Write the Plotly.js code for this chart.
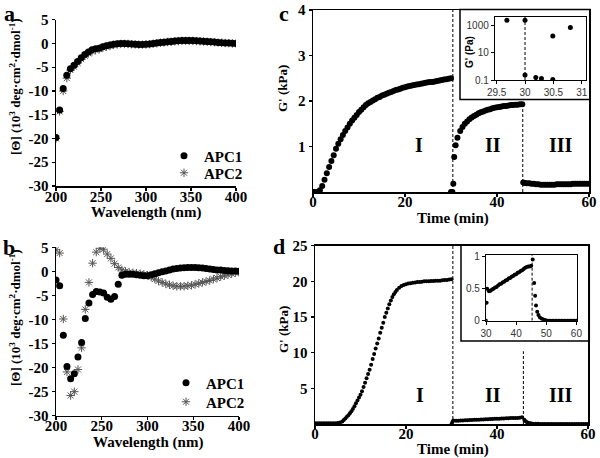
<!DOCTYPE html>
<html>
<head>
<meta charset="utf-8">
<script src="https://cdn.plot.ly/plotly-3.0.1.min.js"></script>
<style>
  html, body { margin: 0; padding: 0; background: #fff; }
  #chart { width: 600px; height: 458px; }
</style>
</head>
<body>
<div id="chart"></div>
<script>
// --- CD spectra (panels a, b) ---
const wavelength = [200, 204, 208, 212, 216, 220, 224, 228, 232, 236, 240, 244, 248, 252, 256, 260, 264, 268, 272, 276,
  280, 284, 288, 292, 296, 300, 304, 308, 312, 316, 320, 324, 328, 332, 336, 340, 344, 348, 352, 356,
  360, 364, 368, 372, 376, 380, 384, 388, 392, 396, 400];

const apc1A = [-19.8, -14.0, -9.5, -6.7, -5.3, -4.6, -3.8, -3.0, -2.3, -1.8, -1.3, -1.1, -1.0, -0.7, -0.5, -0.3, -0.15, -0.05, 0, 0,
  -0.05, -0.1, -0.15, -0.2, -0.2, -0.15, -0.1, 0, 0.1, 0.2, 0.25, 0.35, 0.4, 0.5, 0.55, 0.6, 0.6, 0.6, 0.6, 0.55,
  0.5, 0.45, 0.4, 0.35, 0.3, 0.2, 0.15, 0.1, 0.1, 0.05, 0.0];
const apc2A = [-20.0, -14.3, -10.0, -7.3, -5.6, -4.9, -4.1, -3.3, -2.6, -2.1, -1.7, -1.4, -1.2, -0.9, -0.7, -0.5, -0.3, -0.2, -0.1, -0.1,
  -0.1, -0.15, -0.2, -0.25, -0.25, -0.2, -0.15, -0.05, 0.05, 0.15, 0.2, 0.3, 0.35, 0.45, 0.5, 0.55, 0.55, 0.55, 0.55, 0.5,
  0.45, 0.4, 0.35, 0.3, 0.25, 0.2, 0.15, 0.1, 0.05, 0.0, 0.0];

const apc1B = [-1.8, -3.0, -13.3, -19.8, -22.3, -21.3, -17.8, -14.8, -9.8, -6.6, -4.8, -4.2, -4.3, -4.5, -5.4, -5.8, -5.2, -2.7, -0.8, -0.6,
  -0.6, -0.6, -0.7, -0.8, -0.9, -0.9, -0.7, -0.5, -0.3, -0.1, 0.1, 0.3, 0.5, 0.6, 0.7, 0.75, 0.8, 0.8, 0.8, 0.75,
  0.7, 0.6, 0.5, 0.4, 0.3, 0.3, 0.2, 0.15, 0.1, 0.05, 0.0];
const apc2B = [4.5, 3.8, -9.9, -20.9, -25.8, -25.0, -20.4, -15.9, -7.9, -2.3, 1.7, 4.0, 4.8, 4.6, 3.6, 2.7, 1.6, 0.8, 0.3, 0.0,
  -0.2, -0.3, -0.4, -0.5, -0.6, -0.8, -1.2, -1.6, -2.0, -2.3, -2.6, -2.8, -3.0, -3.1, -3.1, -3.1, -3.0, -2.9, -2.7, -2.5,
  -2.3, -2.1, -1.9, -1.6, -1.4, -1.1, -0.9, -0.7, -0.5, -0.3, -0.2];

const cdTickVals = [5, 0, -5, -10, -15, -20, -25, -30];
const cdTickText = ['5', '0', '-5', '-10', '-15', '-20', '-25', '-30'];

// --- Rheology panel c (G' in kPa) ---
const timeC1 = [0, 0.5, 1, 1.5, 2, 2.5, 3, 3.5, 4, 4.5, 5, 5.5, 6, 6.5, 7, 7.5, 8, 8.5, 9, 9.5,
  10, 10.5, 11, 11.5, 12, 12.5, 13, 13.5, 14, 14.5, 15, 15.5, 16, 16.5, 17, 17.5, 18, 18.5, 19, 19.5,
  20, 20.5, 21, 21.5, 22, 22.5, 23, 23.5, 24, 24.5, 25, 25.5, 26, 26.5, 27, 27.5, 28, 28.5, 29, 29.5, 30];
const gC1 = [0, 0, 0, 0.04, 0.13, 0.27, 0.41, 0.55, 0.68, 0.81, 0.95, 1.06, 1.16, 1.25, 1.34, 1.42, 1.50, 1.57, 1.63, 1.69,
  1.76, 1.81, 1.86, 1.91, 1.95, 1.98, 2.01, 2.04, 2.07, 2.09, 2.12, 2.14, 2.16, 2.18, 2.20, 2.22, 2.24, 2.25, 2.27, 2.29,
  2.30, 2.32, 2.33, 2.34, 2.35, 2.36, 2.37, 2.38, 2.39, 2.40, 2.41, 2.42, 2.42, 2.43, 2.44, 2.45, 2.46, 2.47, 2.48, 2.49, 2.50];
const timeC2 = [30.0, 30.3, 30.5, 30.7, 31.0, 31.4, 32.0, 32.5, 33.0, 33.5, 34.0, 34.5, 35.0, 35.5, 36.0, 36.5, 37.0, 37.5, 38.0, 38.5,
  39.0, 39.5, 40.0, 40.5, 41.0, 41.5, 42.0, 42.5, 43.0, 43.5, 44.0, 44.5, 45.0, 45.5];
const gC2 = [0, 0, 0.18, 0.77, 1.03, 1.19, 1.34, 1.43, 1.50, 1.55, 1.60, 1.64, 1.67, 1.70, 1.73, 1.75, 1.77, 1.79, 1.81, 1.82,
  1.84, 1.85, 1.86, 1.87, 1.88, 1.89, 1.89, 1.90, 1.91, 1.91, 1.92, 1.92, 1.93, 1.93];
const timeC3 = [45.7, 46.0, 46.5, 47.0, 47.5, 48.0, 48.5, 49.0, 49.5, 50.0, 50.5, 51.0, 51.5, 52.0, 52.5, 53.0, 53.5, 54.0, 54.5, 55.0,
  55.5, 56.0, 56.5, 57.0, 57.5, 58.0, 58.5, 59.0, 59.5, 60.0];
const gC3 = [0.21, 0.20, 0.19, 0.19, 0.18, 0.18, 0.17, 0.17, 0.16, 0.16, 0.16, 0.16, 0.16, 0.16, 0.16, 0.17, 0.17, 0.17, 0.17, 0.17,
  0.17, 0.17, 0.18, 0.18, 0.18, 0.18, 0.18, 0.18, 0.18, 0.18];

// inset c: G' in Pa around the strain step
const insetTimeC = [29.68, 30.0, 30.0, 30.19, 30.29, 30.49, 30.49, 30.8];
const insetGc = [2600, 2600, 0.23, 0.15, 0.13, 0.11, 180, 760];

// --- Rheology panel d (G' in kPa) ---
const timeD1 = [0, 0.5, 1, 1.5, 2, 2.5, 3, 3.5, 4, 4.5, 5, 5.5,
  6.00, 6.33, 6.67, 7.00, 7.33, 7.67, 8.00, 8.33, 8.67, 9.00, 9.33, 9.67, 10.00, 10.33, 10.67, 11.00, 11.33, 11.67,
  12.00, 12.33, 12.67, 13.00, 13.33, 13.67, 14.00, 14.33, 14.67, 15.00, 15.33, 15.67, 16.00, 16.33, 16.67, 17.00, 17.33, 17.67, 18.00,
  18.5, 19, 19.5, 20, 20.5, 21, 21.5, 22, 22.5, 23, 23.5, 24, 24.5, 25, 25.5, 26, 26.5, 27, 27.5, 28, 28.5, 29, 29.5, 30];
const gD1 = [0.1, 0.1, 0.1, 0.1, 0.1, 0.1, 0.1, 0.1, 0.1, 0.12, 0.15, 0.22,
  0.35, 0.55, 0.78, 1.0, 1.22, 1.5, 1.8, 2.1, 2.5, 2.9, 3.3, 3.7, 4.1, 4.6, 5.2, 5.8, 6.4, 7.0,
  7.6, 8.3, 9.1, 9.8, 10.6, 11.3, 12.0, 12.8, 13.5, 14.2, 15.0, 15.6, 16.2, 16.8, 17.3, 17.8, 18.2, 18.5, 18.8,
  19.1, 19.35, 19.5, 19.6, 19.7, 19.75, 19.8, 19.85, 19.9, 19.9, 19.95, 20.0, 20.0, 20.0, 20.05, 20.05, 20.1, 20.1, 20.1, 20.15, 20.2, 20.2, 20.25, 20.3];
const timeD2 = [30.0, 30.2, 30.4, 31.0, 31.5, 32.0, 32.5, 33.0, 33.5, 34.0, 34.5, 35.0, 35.5, 36.0, 36.5, 37.0, 37.5, 38.0, 38.5,
  39.0, 39.5, 40.0, 40.5, 41.0, 41.5, 42.0, 42.5, 43.0, 43.5, 44.0, 44.5, 45.0, 45.5];
const gD2 = [0.0, 0.28, 0.5, 0.46, 0.47, 0.49, 0.50, 0.52, 0.53, 0.55, 0.57, 0.58, 0.60, 0.61, 0.63, 0.64, 0.66, 0.67, 0.69,
  0.70, 0.72, 0.73, 0.75, 0.76, 0.78, 0.79, 0.81, 0.83, 0.84, 0.85, 0.85, 0.86, 0.96];
const timeD3 = [46.0, 46.3, 46.6, 47.0, 47.4, 47.9, 48.5, 49.0, 49.5, 50.0, 50.5, 51.0, 51.5, 52.0, 52.5, 53.0, 53.5, 54.0, 54.5, 55.0,
  55.5, 56.0, 56.5, 57.0, 57.5, 58.0, 58.5, 59.0, 59.5, 60.0];
const gD3 = [0.59, 0.39, 0.24, 0.14, 0.09, 0.05, 0.03, 0.02, 0.01, 0.005, 0, 0, 0, 0, 0, 0, 0, 0, 0, 0,
  0, 0, 0, 0, 0, 0, 0, 0, 0, 0];

const regionLabels = ['I', 'II', 'III'];
const regionTimes = [23, 39.2, 54];

// --- helpers ---
const W = 600, H = 458;
const px = x => x / W;
const py = y => 1 - y / H;
const serif = 'Liberation Serif, Times New Roman, serif';
const sans = 'Liberation Sans, Arial, sans-serif';

function mainAxis(extra) {
  return Object.assign({
    showgrid: false, zeroline: false, showline: true, linecolor: '#000', linewidth: 1.5,
    ticks: 'outside', ticklen: 3, tickcolor: '#000', tickwidth: 1.2,
    tickfont: { family: serif, size: 15, color: '#000', weight: 'bold' },
    fixedrange: true
  }, extra);
}
function insetAxis(extra) {
  return Object.assign({
    showgrid: false, zeroline: false, showline: true, linecolor: '#000', linewidth: 1.2, mirror: true,
    ticks: 'outside', ticklen: 3, tickcolor: '#000', tickwidth: 1,
    tickfont: { family: sans, size: 10, color: '#333' },
    fixedrange: true
  }, extra);
}
function dots(x, y, xa, ya, size) {
  return { x: x, y: y, xaxis: xa, yaxis: ya, type: 'scatter', mode: 'markers',
    marker: { color: '#000', size: size, symbol: 'circle' }, showlegend: false, hoverinfo: 'skip' };
}
function cdTrace(x, y, xa, ya, name, legend) {
  const star = name === 'APC2';
  return { x: x, y: y, xaxis: xa, yaxis: ya, type: 'scatter', mode: 'markers', name: name, legend: legend,
    marker: star ? { symbol: 'asterisk-open', size: 7, color: '#555', line: { color: '#555', width: 1 } }
                 : { symbol: 'circle', size: 7, color: '#000' } };
}
function vdash(xref, yref, x, y0, y1) {
  return { type: 'line', xref: xref, yref: yref, x0: x, x1: x, y0: y0, y1: y1,
    line: { color: '#000', width: 1, dash: '3px,2px' }, layer: 'above' };
}
function label(text, x, y, size, extra) {
  return Object.assign({ text: text, x: px(x), y: py(y), xref: 'paper', yref: 'paper', showarrow: false,
    xanchor: 'center', yanchor: 'middle', font: { family: serif, size: size, color: '#000', weight: 'bold' } }, extra || {});
}

// --- traces ---
const traces = [
  cdTrace(wavelength, apc2A, 'x', 'y', 'APC2', 'legend3'),
  cdTrace(wavelength, apc1A, 'x', 'y', 'APC1', 'legend'),
  cdTrace(wavelength, apc2B, 'x2', 'y2', 'APC2', 'legend4'),
  cdTrace(wavelength, apc1B, 'x2', 'y2', 'APC1', 'legend2'),
  dots(timeC1, gC1, 'x3', 'y3', 6),
  dots(timeC2, gC2, 'x3', 'y3', 6),
  dots(timeC3, gC3, 'x3', 'y3', 6),
  dots(timeD1, gD1, 'x4', 'y4', 4),
  dots(timeD2, gD2, 'x4', 'y4', 4),
  dots(timeD3, gD3, 'x4', 'y4', 4),
  dots(insetTimeC, insetGc, 'x5', 'y5', 5),
  dots(timeD2, gD2, 'x6', 'y6', 4),
  dots(timeD3, gD3, 'x6', 'y6', 4)
];

const annotations = [
  label('a', 9, 13, 22), label('b', 9, 247, 22), label('c', 284, 13, 22), label('d', 279, 246, 22),
  label('[Θ] (10<sup>3</sup> deg·cm<sup>2</sup>·dmol<sup>-1</sup>)', 15, 87, 13, { textangle: -90 }),
  label('[Θ] (10<sup>3</sup> deg·cm<sup>2</sup>·dmol<sup>-1</sup>)', 15, 318, 13, { textangle: -90 }),
  label('Wavelength (nm)', 146, 212, 15), label('Wavelength (nm)', 148, 442, 15),
  label("G' (kPa)", 283, 89, 13, { textangle: -90 }), label("G' (kPa)", 283, 330, 13, { textangle: -90 }),
  label('Time (min)', 453, 218, 15), label('Time (min)', 453, 449, 15),
  label("G' (Pa)", 469, 52, 10, { textangle: -90, font: { family: sans, size: 10, color: '#000', weight: 'bold' } })
];
regionLabels.forEach((t, i) => {
  annotations.push({ text: t, x: regionTimes[i], y: 1.03, xref: 'x3', yref: 'y3', showarrow: false,
    font: { family: serif, size: 20, color: '#000', weight: 'bold' } });
  annotations.push({ text: t, x: regionTimes[i], y: 4.1, xref: 'x4', yref: 'y4', showarrow: false,
    font: { family: serif, size: 20, color: '#000', weight: 'bold' } });
});

function legendAt(x, y) {
  return { x: px(x), y: py(y), xanchor: 'left', yanchor: 'middle', bgcolor: 'rgba(0,0,0,0)', borderwidth: 0,
    itemwidth: 30, font: { family: serif, size: 15, color: '#000', weight: 'bold' } };
}

const layout = {
  width: W, height: H,
  margin: { l: 0, r: 0, t: 0, b: 0 },
  paper_bgcolor: '#fff', plot_bgcolor: 'rgba(0,0,0,0)',
  showlegend: true,
  legend: legendAt(164, 156),
  legend3: legendAt(164, 173),
  legend2: legendAt(166, 383),
  legend4: legendAt(166, 402),
  xaxis: mainAxis({ domain: [px(56), px(236)], range: [200, 400], anchor: 'y', tickvals: [200, 250, 300, 350, 400], ticklabelstandoff: -7 }),
  yaxis: mainAxis({ domain: [py(186), py(19.7)], range: [-30, 5], anchor: 'x', tickvals: cdTickVals, ticktext: cdTickText }),
  xaxis2: mainAxis({ domain: [px(56), px(239)], range: [200, 400], anchor: 'y2', tickvals: [200, 250, 300, 350, 400], ticklabelstandoff: -7 }),
  yaxis2: mainAxis({ domain: [py(415.7), py(247.3)], range: [-30, 5], anchor: 'x2', tickvals: cdTickVals, ticktext: cdTickText }),
  xaxis3: mainAxis({ domain: [px(313), px(589)], range: [0, 60], anchor: 'y3', tickvals: [0, 20, 40, 60], mirror: true, ticklabelstandoff: -8 }),
  yaxis3: mainAxis({ domain: [py(192), py(10)], range: [0, 4], anchor: 'x3', tickvals: [1, 2, 3, 4], mirror: true }),
  xaxis4: mainAxis({ domain: [px(315), px(588)], range: [0, 60], anchor: 'y4', tickvals: [0, 20, 40, 60], mirror: true, ticklabelstandoff: -8 }),
  yaxis4: mainAxis({ domain: [py(424), py(245.7)], range: [0, 25], anchor: 'x4', tickvals: [5, 10, 15, 20, 25], mirror: true }),
  xaxis5: insetAxis({ domain: [px(495), px(586)], range: [29.47, 31.076], anchor: 'y5', tickvals: [29.5, 30, 30.5, 31] }),
  yaxis5: insetAxis({ domain: [py(80), py(16.7)], type: 'log', range: [-1, 3.67], anchor: 'x5',
    tickvals: [0.1, 10, 1000], ticktext: ['0.1', '10', '1000'] }),
  xaxis6: insetAxis({ domain: [px(486), px(577)], range: [30, 60.2], anchor: 'y6', tickvals: [30, 40, 50, 60] }),
  yaxis6: insetAxis({ domain: [py(320.7), py(255)], range: [0, 1.03], anchor: 'x6', tickvals: [0, 0.5, 1], ticktext: ['0', '0.5', '1'] }),
  shapes: [
    { type: 'rect', xref: 'paper', yref: 'paper', x0: px(460), x1: px(590), y0: py(99.5), y1: py(9.5),
      line: { color: '#000', width: 1.5 }, fillcolor: '#fff', layer: 'below' },
    { type: 'rect', xref: 'paper', yref: 'paper', x0: px(461), x1: px(589.3), y0: py(341), y1: py(245),
      line: { color: '#000', width: 1.5 }, fillcolor: '#fff', layer: 'below' },
    vdash('x3', 'y3', 30.4, 0, 4),
    vdash('x3', 'y3', 45.6, 0, 1.97),
    vdash('x4', 'y4', 30.3, 0, 25),
    vdash('x4', 'y4', 45.8, 0, 10.2),
    vdash('x5', 'y5', 30, 0.1, 4677),
    vdash('x6', 'y6', 45.3, 0, 1.03)
  ],
  annotations: annotations
};

Plotly.newPlot('chart', traces, layout, { staticPlot: true, displayModeBar: false });
</script>
</body>
</html>
